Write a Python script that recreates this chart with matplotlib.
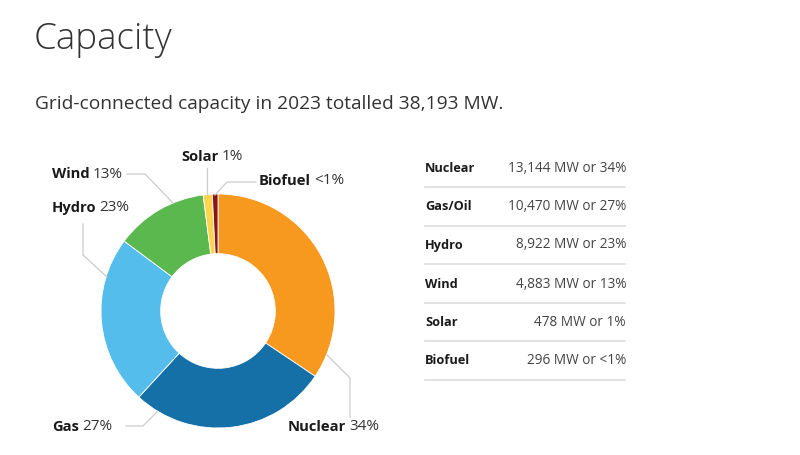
import matplotlib
matplotlib.use('Agg')
import matplotlib.pyplot as plt
from matplotlib.lines import Line2D

plt.rcParams['font.family'] = ['Open Sans', 'DejaVu Sans']

sources = ['Nuclear', 'Gas', 'Hydro', 'Wind', 'Solar', 'Biofuel']
table_names = ['Nuclear', 'Gas/Oil', 'Hydro', 'Wind', 'Solar', 'Biofuel']
mw = [13144, 10470, 8922, 4883, 478, 296]
pct_labels = ['34%', '27%', '23%', '13%', '1%', '<1%']
colors = ['#F7981F', '#1570A8', '#54BDEB', '#5BB84F', '#FDD44E', '#8B1417']

W, H = 800, 455
fig = plt.figure(figsize=(W / 100, H / 100), dpi=100)
fig.patch.set_facecolor('white')

def fx(x):
    return x / W

def fy(y):
    return 1 - y / H

fig.text(fx(34), fy(40), 'Capacity', fontsize=26.5, fontweight='light',
         color='#333333', va='center', ha='left')
fig.text(fx(35), fy(104), 'Grid-connected capacity in 2023 totalled 38,193 MW.',
         fontsize=13.8, color='#333333', va='center', ha='left')

# donut
cx, cy, r = 218, 311, 117
ax = fig.add_axes([fx(cx - r), fy(cy + r), 2 * r / W, 2 * r / H])
ax.pie(mw, colors=colors, startangle=90, counterclock=False, radius=1,
       wedgeprops=dict(width=0.51, edgecolor='white', linewidth=0.6))
ax.set_xlim(-1, 1)
ax.set_ylim(-1, 1)
ax.set_aspect('equal')
ax.axis('off')

# leader lines
leaders = {
    'Nuclear': [(327, 355), (350, 378), (350, 417)],
    'Gas': [(157, 412), (143, 426), (126, 426)],
    'Hydro': [(107, 277), (83, 255), (83, 224)],
    'Wind': [(173, 203), (145, 174), (127, 174)],
    'Solar': [(207, 195), (207, 168)],
    'Biofuel': [(215, 195), (227, 182), (256, 182)],
}
for pts in leaders.values():
    xs = [fx(p[0]) for p in pts]
    ys = [fy(p[1]) for p in pts]
    fig.add_artist(Line2D(xs, ys, color='#cccccc', lw=0.9))

label_pos = {
    'Nuclear': (288, 427),
    'Gas': (52, 427),
    'Hydro': (52, 208),
    'Wind': (52, 174),
    'Solar': (181, 157),
    'Biofuel': (259, 181),
}
fig.canvas.draw()
rend = fig.canvas.get_renderer()
for name, pct in zip(sources, pct_labels):
    x, y = label_pos[name]
    t = fig.text(fx(x), fy(y), name, fontsize=10.6, fontweight='bold',
                 color='#1a1a1a', va='center', ha='left')
    bb = t.get_window_extent(renderer=rend)
    fig.text(fx(bb.x1 + 3), fy(y), pct, fontsize=11, color='#333333',
             va='center', ha='left')

# table
row_y = [168, 207, 245, 284, 322, 361]
for name, v, pct, y in zip(table_names, mw, pct_labels, row_y):
    fig.text(fx(425), fy(y), name, fontsize=9.2, fontweight='bold',
             color='#1a1a1a', va='center', ha='left')
    fig.text(fx(626), fy(y), f'{v:,} MW or {pct}', fontsize=9.8,
             color='#444444', va='center', ha='right')
    fig.add_artist(Line2D([fx(425), fx(625)], [fy(y + 19), fy(y + 19)],
                          color='#dddddd', lw=1.2))

fig.savefig('out.png', dpi=100, facecolor='white')
